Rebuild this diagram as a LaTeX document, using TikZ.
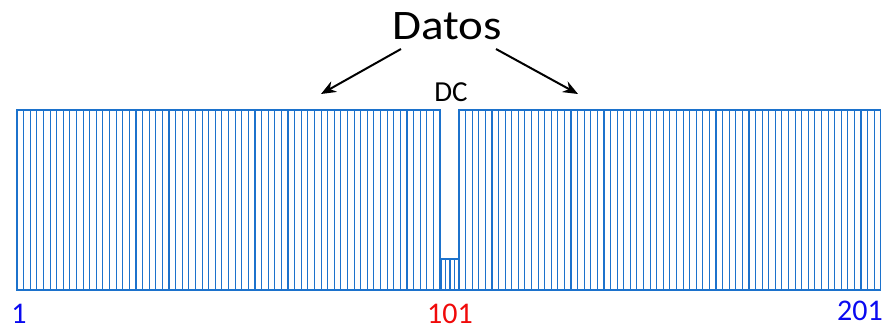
\documentclass[tikz,border=0pt]{standalone}
\usepackage{fontspec}
\setmainfont{Carlito}
\usepackage{tikz}
\usetikzlibrary{arrows.meta,calc}
\definecolor{sc_blue}{RGB}{28, 114, 204}
\definecolor{lbl_blue}{RGB}{10, 10, 240}
\definecolor{lbl_red}{RGB}{240, 10, 10}
\tikzstyle{sc}=[draw=sc_blue,line width=1.1pt]
\tikzstyle{lbl}=[inner sep=0pt,anchor=base,font=\fontsize{30}{32}\selectfont]
\tikzstyle{title}=[inner sep=0pt,anchor=base,xscale=1.12,font=\fontsize{42}{46}\selectfont]
\tikzstyle{ptr}=[-{Stealth[length=15pt,width=12pt]},line width=2pt]
\tikzstyle{none}=[]

\begin{document}
\begin{tikzpicture}[x=1pt,y=-1pt]
    \useasboundingbox (0,0) rectangle (888,330);
    % subcarriers
    \foreach \i in {0,...,63} {
        \draw [style=sc] ({17+\i*6.61},110) rectangle ({17+(\i+1)*6.61},290);
        \draw [style=sc] ({459+\i*6.59},110) rectangle ({459+(\i+1)*6.59},290);
    }
    \foreach \i in {0,...,3} {
        \draw [style=sc] ({441+\i*4.5},259) rectangle ({441+(\i+1)*4.5},290);
    }
        \node [style=title] (0) at (447, 39) {Datos};
        \node [style=lbl,font=\fontsize{29}{31}\selectfont] (1) at (451, 101) {DC};
        \node [style=lbl,text=lbl_blue] (2) at (19, 323) {1};
        \node [style=lbl,text=lbl_red] (3) at (450, 323) {101};
        \node [style=lbl,text=lbl_blue] (4) at (860, 320) {201};
        \coordinate (5) at (401, 49);
        \coordinate (6) at (321, 94);
        \coordinate (7) at (496, 49);
        \coordinate (8) at (578, 94);
        \draw [style=ptr] (5) to (6);
        \draw [style=ptr] (7) to (8);
\end{tikzpicture}
\end{document}
